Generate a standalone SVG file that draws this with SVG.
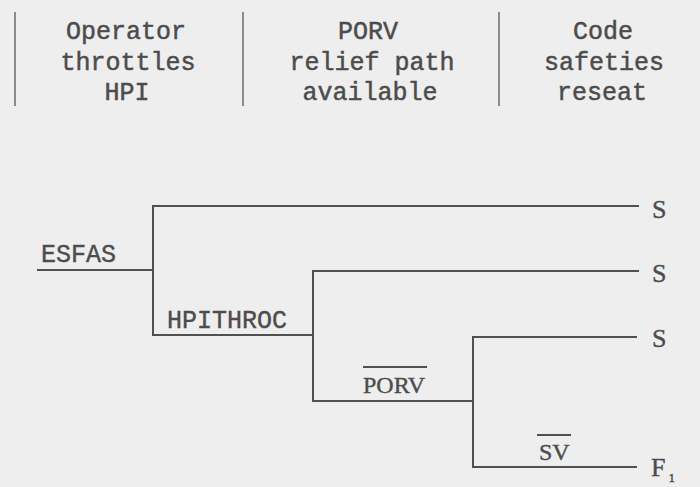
<svg xmlns="http://www.w3.org/2000/svg" width="700" height="487" viewBox="0 0 700 487">
<style>
.hdr{font-family:"Liberation Mono","DejaVu Sans Mono",monospace;font-size:25px;fill:#4c4c4c;stroke:#4c4c4c;stroke-width:0.5;text-anchor:middle}
.mono{font-family:"Liberation Mono","DejaVu Sans Mono",monospace;font-size:25px;fill:#4c4c4c;stroke:#4c4c4c;stroke-width:0.4}
.lbl{font-family:"Liberation Serif","DejaVu Serif",serif;font-size:24px;fill:#4c4c4c;stroke:#4c4c4c;stroke-width:0.4}
.end{font-family:"Liberation Serif","DejaVu Serif",serif;font-size:26px;fill:#4c4c4c;stroke:#4c4c4c;stroke-width:0.4}
.sep{stroke:#6a6a6a;stroke-width:1.5;fill:none}
.br{stroke:#505050;stroke-width:2;fill:none;stroke-linecap:square}
.bar{stroke:#505050;stroke-width:1.8}
</style>
<rect width="700" height="487" fill="#eeeeee"/>
<g id="header">
  <line class="sep" x1="15" y1="12" x2="15" y2="106"/>
  <line class="sep" x1="243" y1="12" x2="243" y2="106"/>
  <line class="sep" x1="499" y1="12" x2="499" y2="106"/>
  <g id="col-operator">
    <text class="hdr" x="126" y="39">Operator</text>
    <text class="hdr" x="128" y="70">throttles</text>
    <text class="hdr" x="127" y="100">HPI</text>
  </g>
  <g id="col-porv">
    <text class="hdr" x="368" y="39">PORV</text>
    <text class="hdr" x="372" y="70">relief path</text>
    <text class="hdr" x="370" y="100">available</text>
  </g>
  <g id="col-code">
    <text class="hdr" x="603" y="39">Code</text>
    <text class="hdr" x="604" y="70">safeties</text>
    <text class="hdr" x="602" y="100">reseat</text>
  </g>
</g>
<g id="connectors">
  <path class="br" d="M38,270 H153"/>
  <path class="br" d="M638,206 H153 V335 H313"/>
  <path class="br" d="M638,271 H313 V401 H473"/>
  <path class="br" d="M636,337 H473 V467 H636"/>
</g>
<g id="node-esfas"><text class="mono" x="41" y="262">ESFAS</text></g>
<g id="node-hpithroc"><text class="mono" x="167" y="328">HPITHROC</text></g>
<g id="node-porv-bar">
  <text class="lbl" x="363" y="393">PORV</text>
  <line class="bar" x1="363" y1="367" x2="427" y2="367"/>
</g>
<g id="node-sv-bar">
  <text class="lbl" x="539" y="460">SV</text>
  <line class="bar" x1="537" y1="435" x2="571" y2="435"/>
</g>
<g id="end-s1"><text class="end" x="652" y="218">S</text></g>
<g id="end-s2"><text class="end" x="652" y="282">S</text></g>
<g id="end-s3"><text class="end" x="652" y="347">S</text></g>
<g id="end-f1"><text class="end" x="651" y="476">F<tspan font-size="13" dx="3" dy="6">1</tspan></text></g>
</svg>
